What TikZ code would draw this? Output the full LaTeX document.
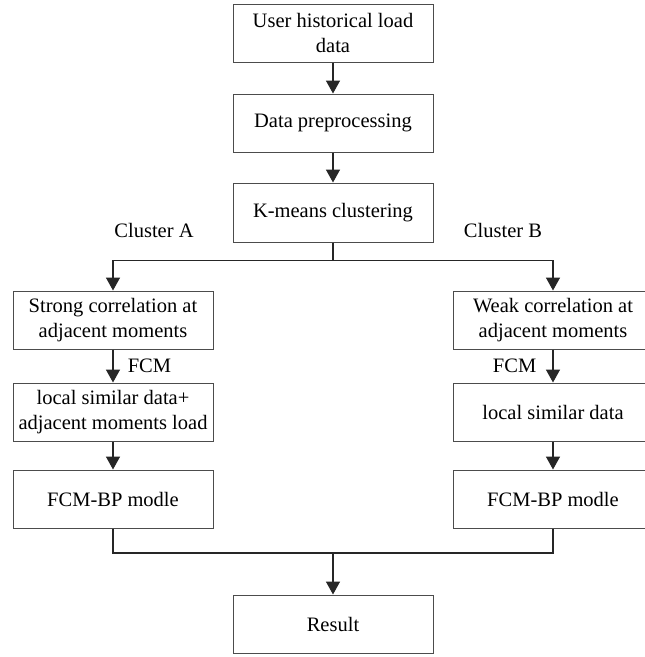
\documentclass[tikz,border=0pt]{standalone}
\usepackage{fontspec}
\setmainfont{Liberation Serif}
\usetikzlibrary{arrows.meta}
\tikzset{
  box/.style={draw=black!70, line width=1pt, fill=white, minimum width=200pt, minimum height=58pt,
              inner sep=0pt, align=center, font=\fontsize{20.5}{25}\selectfont},
  lbl/.style={inner sep=0pt, font=\fontsize{20.5}{25}\selectfont},
  arr/.style={line width=1.5pt, draw=black!85, -{Triangle[width=14pt,length=13pt]}},
  ln/.style={line width=1.5pt, draw=black!85}
}
\begin{document}
\begin{tikzpicture}[x=1pt,y=-1pt]
\useasboundingbox (0,0) rectangle (645,657);
\clip (0,0) rectangle (645,657);
\fill[white] (0,0) rectangle (645,657);
\node[box] (b1) at (333,33) {User historical load\\data};
\node[box] (b2) at (333,123) {Data preprocessing};
\node[box, minimum height=59pt] (b3) at (333,212.5) {K-means clustering};
\node[lbl] (ca) at (154,230) {Cluster A};
\node[lbl] (cb) at (503,230) {Cluster B};
\node[box] (sa) at (113,320) {Strong correlation at\\adjacent moments};
\node[box] (la) at (113,412) {local similar data+\\adjacent moments load};
\node[box] (fa) at (113,499) {FCM-BP modle};
\node[box] (sb) at (553,320) {Weak correlation at\\adjacent moments};
\node[box] (lb) at (553,412) {local similar data};
\node[box] (fb) at (553,499) {FCM-BP modle};
\node[box] (res) at (333,624) {Result};
\coordinate (m) at (333,553);
\draw[arr] (b1) -- (b2);
\draw[arr] (b2) -- (b3);
\draw[arr] (b3.south) -- ++(0,18) -| (sa.north);
\draw[arr] (b3.south) -- ++(0,18) -| (sb.north);
\draw[arr] (sa) -- node[lbl, anchor=west, xshift=14pt] {FCM} (la);
\draw[arr] (sb) -- node[lbl, anchor=east, xshift=-16pt] {FCM} (lb);
\draw[arr] (la) -- (fa);
\draw[arr] (lb) -- (fb);
\draw[ln] (fa.south) |- (m) -| (fb.south);
\draw[arr] (m) -- (res);
\end{tikzpicture}
\end{document}
